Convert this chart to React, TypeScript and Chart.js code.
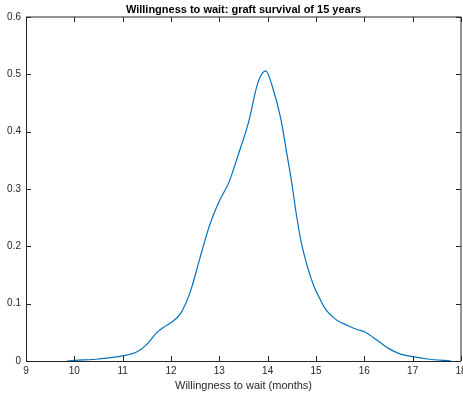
import { useEffect, useRef } from "react";
import { Chart, registerables } from "chart.js";

Chart.register(...registerables);

// Estimated density of willingness to wait (months)
const months = [
  9.85, 10.0, 10.5, 11.0, 11.3, 11.5, 11.7, 11.85, 12.0, 12.2, 12.4, 12.6, 12.8,
  13.0, 13.2, 13.4, 13.6, 13.8, 13.96, 14.1, 14.27, 14.4, 14.5, 14.6, 14.7,
  14.82, 14.96, 15.1, 15.2, 15.4, 15.65, 15.85, 16.0, 16.3, 16.5, 16.75, 17.0,
  17.3, 17.8,
];
const density = [
  0.0, 0.001, 0.0035, 0.009, 0.016, 0.029, 0.049, 0.059, 0.067, 0.083, 0.121,
  0.18, 0.237, 0.279, 0.312, 0.362, 0.415, 0.486, 0.506, 0.478, 0.423, 0.36,
  0.31, 0.252, 0.205, 0.165, 0.13, 0.105, 0.09, 0.073, 0.062, 0.055, 0.051,
  0.034, 0.022, 0.012, 0.0075, 0.0035, 0.0,
];

const xTicks = [9, 10, 11, 12, 13, 14, 15, 16, 17, 18];
const yTicks = [0, 0.1, 0.2, 0.3, 0.4, 0.5, 0.6];

const TITLE = "Willingness to wait: graft survival of 15 years";
const X_LABEL = "Willingness to wait (months)";

const AXIS_COLOR = "#262626";
const LINE_COLOR = "#0072BD";
const FONT = "'Liberation Sans', Arial, Helvetica, sans-serif";
const TICK_LEN = 5;

// Box outline, inward tick marks and the bold title
const boxAxes = {
  id: "boxAxes",
  afterDraw(chart: any) {
    const { ctx, chartArea } = chart;
    const { left, right, top, bottom } = chartArea;
    const xs = chart.scales.x;
    const ys = chart.scales.y;
    ctx.save();
    ctx.strokeStyle = AXIS_COLOR;
    ctx.lineWidth = 1;

    // top and right edges
    ctx.beginPath();
    ctx.moveTo(left, top);
    ctx.lineTo(right, top);
    ctx.lineTo(right, bottom);
    ctx.stroke();

    // left and bottom axes
    ctx.beginPath();
    ctx.moveTo(left + 0.5, top);
    ctx.lineTo(left + 0.5, bottom + 0.5);
    ctx.lineTo(right, bottom + 0.5);
    ctx.stroke();

    ctx.beginPath();
    for (const v of xTicks) {
      const px = Math.round(xs.getPixelForValue(v)) + 0.5;
      ctx.moveTo(px, bottom);
      ctx.lineTo(px, bottom - TICK_LEN);
      ctx.moveTo(px, top);
      ctx.lineTo(px, top + TICK_LEN);
    }
    for (const v of yTicks) {
      const py = Math.round(ys.getPixelForValue(v)) + 0.5;
      ctx.moveTo(left, py);
      ctx.lineTo(left + TICK_LEN, py);
      ctx.moveTo(right, py);
      ctx.lineTo(right - TICK_LEN, py);
    }
    ctx.stroke();

    ctx.fillStyle = "#000000";
    ctx.font = `bold 11px ${FONT}`;
    ctx.textAlign = "center";
    ctx.textBaseline = "middle";
    ctx.fillText(TITLE, (left + right) / 2, 9.5);
    ctx.restore();
  },
};

export default function App() {
  const canvasRef = useRef<HTMLCanvasElement | null>(null);

  useEffect(() => {
    const canvas = canvasRef.current;
    if (!canvas) return;
    const chart = new Chart(canvas, {
      type: "line",
      data: {
        datasets: [
          {
            data: months.map((m, i) => ({ x: m, y: density[i] })),
            borderColor: LINE_COLOR,
            borderWidth: 1.2,
            pointRadius: 0,
            fill: false,
            tension: 0.4,
            cubicInterpolationMode: "monotone",
          },
        ],
      },
      options: {
        responsive: false,
        animation: false,
        devicePixelRatio: 1,
        layout: {
          autoPadding: false,
          padding: { top: 17, right: 2, left: 0, bottom: 0 },
        },
        plugins: {
          legend: { display: false },
          tooltip: { enabled: false },
          title: { display: false },
        },
        scales: {
          x: {
            type: "linear",
            min: 9,
            max: 18,
            grid: { display: false, drawTicks: false },
            border: { display: false },
            afterBuildTicks: (scale: any) => {
              scale.ticks = xTicks.map((v) => ({ value: v }));
            },
            afterFit: (scale: any) => {
              scale.height = 37;
              scale.paddingLeft = 0;
              scale.paddingRight = 0;
            },
            ticks: {
              padding: 4,
              color: AXIS_COLOR,
              font: { family: FONT, size: 10 },
              maxRotation: 0,
              autoSkip: false,
              callback: (v: any) => String(v),
            },
            title: {
              display: true,
              text: X_LABEL,
              color: AXIS_COLOR,
              font: { family: FONT, size: 11 },
              padding: { top: 0, bottom: 5 },
            },
          },
          y: {
            type: "linear",
            min: 0,
            max: 0.6,
            grid: { display: false, drawTicks: false },
            border: { display: false },
            afterBuildTicks: (scale: any) => {
              scale.ticks = yTicks.map((v) => ({ value: v }));
            },
            afterFit: (scale: any) => {
              scale.width = 26;
              scale.paddingTop = 0;
              scale.paddingBottom = 0;
            },
            ticks: {
              padding: 5,
              color: AXIS_COLOR,
              font: { family: FONT, size: 10 },
              callback: (v: any) => String(Number(Number(v).toFixed(1))),
            },
          },
        },
      },
      plugins: [boxAxes],
    });
    return () => chart.destroy();
  }, []);

  return (
    <div
      style={{
        position: "fixed",
        left: 0,
        top: 0,
        width: 463,
        height: 398,
        background: "#ffffff",
      }}
    >
      <canvas
        ref={canvasRef}
        width={463}
        height={398}
        style={{ display: "block", width: 463, height: 398 }}
      />
    </div>
  );
}
